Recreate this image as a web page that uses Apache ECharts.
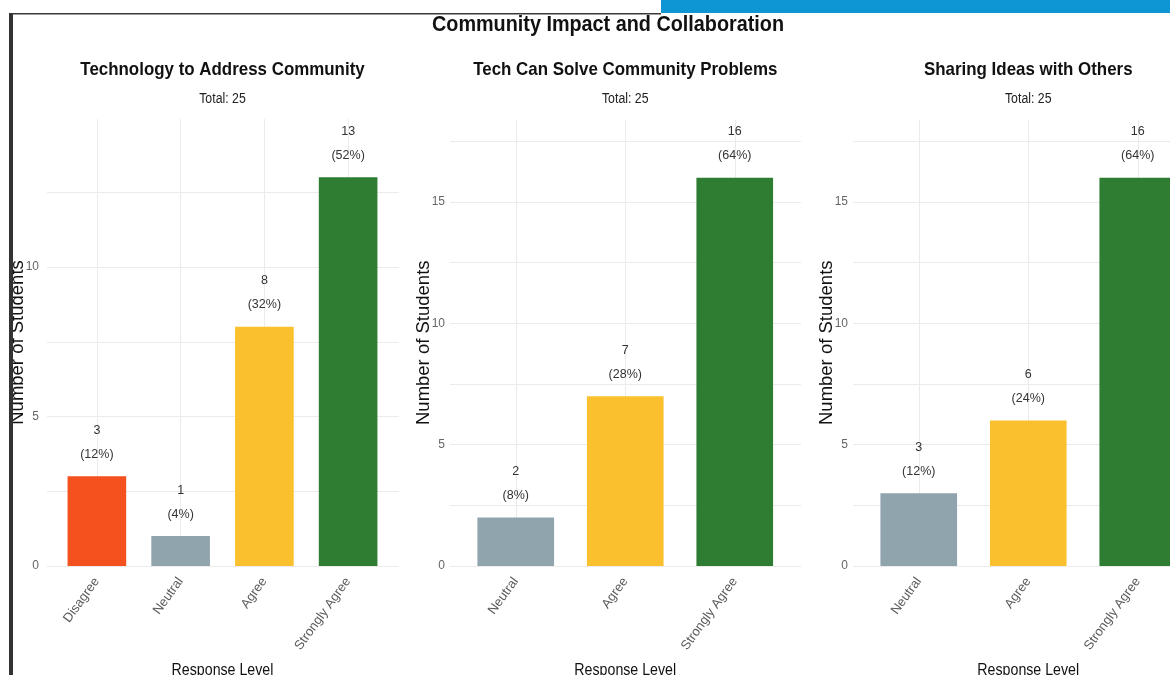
<!DOCTYPE html>
<html>
<head>
<meta charset="utf-8">
<script src="https://cdn.jsdelivr.net/npm/echarts@6/dist/echarts.min.js"></script>
<style>
html,body{margin:0;padding:0;background:#fff;}
#chart{width:1170px;height:675px;}
</style>
</head>
<body>
<div id="chart"></div>
<script>
// ---- data ----
const mainTitle = 'Community Impact and Collaboration';
const panelTitles = ['Technology to Address Community', 'Tech Can Solve Community Problems', 'Sharing Ideas with Others'];
const totals = [25, 25, 25];
const categories1 = ['Disagree', 'Neutral', 'Agree', 'Strongly Agree'];
const values1 = [3, 1, 8, 13];
const categories2 = ['Neutral', 'Agree', 'Strongly Agree'];
const values2 = [2, 7, 16];
const categories3 = ['Neutral', 'Agree', 'Strongly Agree'];
const values3 = [3, 6, 16];
const xAxisTitle = 'Response Level';
const yAxisTitle = 'Number of Students';

// ---- styles ----
const colorMap = {
  'Disagree': '#F4511E',
  'Neutral': '#90A4AE',
  'Agree': '#FBC02D',
  'Strongly Agree': '#2E7D32'
};
const FONT = "'Liberation Sans', Arial, sans-serif";

const panels = [
  { cats: categories1, vals: values1, total: totals[0], title: panelTitles[0],
    grid: { left: 55, top: 119, width: 335, height: 447 }, bg: { left: 47, width: 352 } },
  { cats: categories2, vals: values2, total: totals[1], title: panelTitles[1],
    grid: { left: 461, top: 119.5, width: 328.5, height: 446.5 }, bg: { left: 450, width: 351 } },
  { cats: categories3, vals: values3, total: totals[2], title: panelTitles[2],
    grid: { left: 864, top: 119.5, width: 328.5, height: 446.5 }, bg: { left: 853, width: 351 } }
];

const grids = [], xAxes = [], yAxes = [], series = [];
const texts = [];

function squeezedText(str, x, y, size, weight, color, sx) {
  return {
    type: 'text', x: x, y: y, scaleX: sx, z: 50, silent: true,
    style: {
      text: str, fill: color, align: 'center', verticalAlign: 'middle',
      font: weight + ' ' + size + 'px ' + FONT
    }
  };
}

texts.push(squeezedText(mainTitle, 608, 25, 22, 'bold', '#111', 0.9));

panels.forEach((p, i) => {
  const cx = p.grid.left + p.grid.width / 2;
  const yMax = Math.max(...p.vals) * 1.15;
  texts.push(squeezedText(p.title, cx, 70, 19, 'bold', '#111', 0.89));
  texts.push(squeezedText('Total: ' + p.total, cx, 99, 14, 'normal', '#222', 0.88));
  texts.push(squeezedText(xAxisTitle, cx, 670, 16.5, 'normal', '#111', 0.86));

  // background grid for horizontal gridlines (full panel width)
  const bgIdx = grids.length;
  grids.push({ left: p.bg.left, top: p.grid.top, width: p.bg.width, height: p.grid.height, outerBoundsMode: 'none', containLabel: false });
  xAxes.push({ gridIndex: bgIdx, type: 'value', min: 0, max: 1, show: false });
  yAxes.push({
    gridIndex: bgIdx, type: 'value', min: 0, max: yMax, interval: 2.5,
    axisLabel: { show: false }, axisLine: { show: false }, axisTick: { show: false },
    splitLine: { show: true, showMaxLine: false, lineStyle: { color: '#ebebeb', width: 1 } }
  });

  // main grid
  const gIdx = grids.length;
  grids.push(Object.assign({ outerBoundsMode: 'none', containLabel: false }, p.grid));
  xAxes.push({
    gridIndex: gIdx, type: 'category', data: p.cats,
    axisLine: { show: false }, axisTick: { show: false },
    axisLabel: { rotate: 54, margin: 13, fontFamily: FONT, fontSize: 13, color: '#5a5a5a', interval: 0 },
    splitLine: { show: true, interval: 0, alignWithLabel: true, lineStyle: { color: '#ebebeb', width: 1 } }
  });
  yAxes.push({
    gridIndex: gIdx, type: 'value', min: 0, max: yMax, interval: 2.5,
    name: yAxisTitle, nameLocation: 'middle', nameGap: 28, nameMoveOverlap: false,
    nameTextStyle: { fontFamily: FONT, fontSize: 18.5, color: '#111' },
    axisLine: { show: false }, axisTick: { show: false },
    axisLabel: {
      margin: 16, fontFamily: FONT, fontSize: 12, color: '#666', showMaxLabel: false,
      formatter: v => (Math.abs(v % 5) < 1e-9 ? String(v) : '')
    },
    splitLine: { show: false }
  });
  series.push({
    type: 'bar', xAxisIndex: gIdx, yAxisIndex: gIdx, barWidth: '70%',
    data: p.vals.map((v, k) => ({ value: v, itemStyle: { color: colorMap[p.cats[k]] } })),
    label: {
      show: true, position: 'top', distance: 10,
      fontFamily: FONT, fontSize: 12.5, lineHeight: 24, color: '#333', align: 'center',
      formatter: prm => prm.value + '\n(' + Math.round(prm.value / p.total * 100) + '%)'
    },
    silent: true, animation: false
  });
});

const chart = echarts.init(document.getElementById('chart'), null, { renderer: 'canvas' });
chart.setOption({
  backgroundColor: '#ffffff',
  animation: false,
  grid: grids,
  xAxis: xAxes,
  yAxis: yAxes,
  series: series,
  graphic: texts.concat([
    { type: 'rect', left: 661, top: 0, shape: { width: 509, height: 13 }, style: { fill: '#0E96D4' }, z: 100 },
    { type: 'rect', left: 9, top: 13, shape: { width: 652, height: 1.5 }, style: { fill: '#3a3a3a' }, z: 100 },
    { type: 'rect', left: 9, top: 13, shape: { width: 4, height: 662 }, style: { fill: '#333' }, z: 100 }
  ])
});
</script>
</body>
</html>
